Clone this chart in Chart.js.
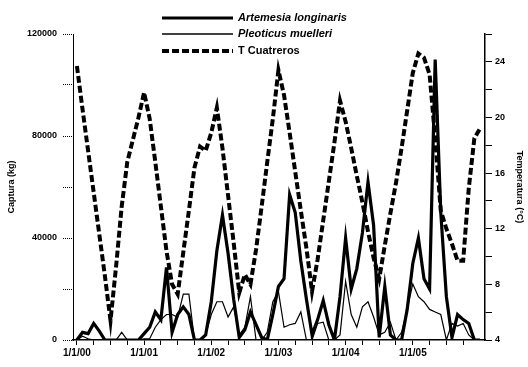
<!DOCTYPE html>
<html>
<head>
<meta charset="utf-8">
<script src="https://cdn.jsdelivr.net/npm/chart.js@4/dist/chart.umd.min.js"></script>
<style>
  html, body { margin: 0; padding: 0; background: #fff; }
  #wrap { width: 528px; height: 367px; position: relative; }
</style>
</head>
<body>
<div id="wrap"><canvas id="capturaChart"></canvas></div>
<script>
// monthly values, Jan 2000 .. Jan 2006 (index 0 = 1/1/00)
const seriesNames = ['Artemesia longinaris', 'Pleoticus muelleri', 'T Cuatreros'];
const yearLabels = ['1/1/00', '1/1/01', '1/1/02', '1/1/03', '1/1/04', '1/1/05'];

const artemesia = [
    0, 3000, 2500, 6500, 3500, 0, 0, 0, 0, 0, 0, 0,
    2500, 5000, 11000, 8000, 28500, 3000, 10000, 13000, 10000, 0, 0, 2000,
    15000, 35000, 49000, 34000, 16000, 1000, 4000, 11000, 6000, 1000, 0, 10000,
    21000, 24000, 57000, 50000, 31000, 16000, 2000, 8000, 15500, 6000, 0, 17000,
    40000, 20000, 28000, 42000, 62000, 45000, 1000, 21000, 2000, 0, 0, 12000,
    30000, 40000, 24000, 20000, 110000, 50000, 17000, 1000, 10000, 8000, 6500, 0,
    0
];
const pleoticus = [
    0, 1500, 500, 0, 0, 0, 0, 0, 3000, 0, 0, 0,
    500, 500, 5000, 8000, 10000, 10000, 9000, 18000, 18000, 0, 0, 2000,
    10000, 15000, 15000, 9000, 13000, 2000, 5000, 17000, 0, 0, 3000, 15000,
    19000, 5000, 6000, 6500, 11000, 0, 0, 6500, 7000, 0, 0, 2000,
    23000, 10000, 5000, 13000, 15000, 9000, 2000, 3000, 7000, 0, 3000, 12000,
    22000, 17000, 15000, 12000, 11000, 10000, 0, 6500, 5500, 6500, 2000, 0,
    0
];
const tempCuatreros = [
    23.7, 20.6, 17.6, 14.6, 11.6, 8.6, 5.4, 9.3, 13.6, 16.8, 18.4, 20.0,
    21.8, 19.9, 16.8, 13.6, 10.4, 8.0, 7.3, 10.3, 13.3, 16.4, 17.9, 17.6,
    18.9, 20.7, 17.8, 14.4, 11.0, 7.4, 8.7, 8.0, 10.5, 13.6, 16.8, 19.9,
    23.4, 21.6, 18.9, 16.1, 13.3, 10.6, 7.5, 9.8, 12.6, 15.4, 18.2, 21.2,
    19.7, 17.8, 15.8, 13.9, 11.8, 9.9, 8.4, 10.8, 13.1, 15.3, 17.8, 20.5,
    23.2, 24.6, 24.3, 23.1, 18.5, 13.3, 12.0, 10.9, 9.7, 9.7, 14.9, 18.5,
    19.2
];

const toPoints = arr => arr.map((v, i) => ({ x: i, y: v }));

const quarterTicks = [];
for (let m = 0; m <= 72; m += 3) quarterTicks.push(m);

// legend drawn in the top strip, like the original figure
const legendPlugin = {
    id: 'topLegend',
    afterDraw(chart) {
        const ctx = chart.ctx;
        const rows = [
            { y: 18, width: 3.2, dash: [], font: 'italic bold 11px "Liberation Sans", Arial, sans-serif' },
            { y: 34, width: 1.6, dash: [], font: 'italic bold 11px "Liberation Sans", Arial, sans-serif' },
            { y: 51, width: 4, dash: [7, 3], font: 'bold 11px "Liberation Sans", Arial, sans-serif' }
        ];
        ctx.save();
        rows.forEach((r, i) => {
            ctx.beginPath();
            ctx.setLineDash(r.dash);
            ctx.lineWidth = r.width;
            ctx.strokeStyle = '#000';
            ctx.moveTo(162, r.y);
            ctx.lineTo(233, r.y);
            ctx.stroke();
            ctx.setLineDash([]);
            ctx.font = r.font;
            ctx.fillStyle = '#000';
            ctx.textBaseline = 'middle';
            ctx.textAlign = 'left';
            ctx.fillText(seriesNames[i], 238, r.y);
        });
        ctx.restore();
    }
};

const tickFont = { family: '"Liberation Sans", Arial, sans-serif', size: 9, weight: 'bold' };

new Chart(document.getElementById('capturaChart'), {
    type: 'line',
    data: {
        datasets: [
            {
                label: seriesNames[0],
                data: toPoints(artemesia),
                borderColor: '#000',
                borderWidth: 3.2,
                pointRadius: 0,
                yAxisID: 'y',
                order: 2
            },
            {
                label: seriesNames[1],
                data: toPoints(pleoticus),
                borderColor: '#000',
                borderWidth: 1.2,
                pointRadius: 0,
                yAxisID: 'y',
                order: 1
            },
            {
                label: seriesNames[2],
                data: toPoints(tempCuatreros),
                borderColor: '#000',
                borderWidth: 4,
                borderDash: [7, 3],
                pointRadius: 0,
                yAxisID: 'y2',
                order: 0
            }
        ]
    },
    options: {
        responsive: true,
        maintainAspectRatio: false,
        animation: false,
        layout: { padding: { top: 34, left: 0, right: 0, bottom: 0 } },
        plugins: {
            legend: { display: false },
            tooltip: { enabled: false }
        },
        scales: {
            x: {
                type: 'linear',
                min: -0.7,
                max: 72.9,
                afterBuildTicks: s => { s.ticks = quarterTicks.map(v => ({ value: v })); },
                afterFit: s => { s.height = 27; },
                grid: { drawOnChartArea: false, tickLength: 5, color: '#000', tickWidth: 1 },
                border: { color: '#000', width: 1.5 },
                ticks: {
                    color: '#000',
                    padding: 2,
                    maxRotation: 0,
                    autoSkip: false,
                    font: { family: '"Liberation Sans", Arial, sans-serif', size: 10, weight: 'bold' },
                    callback: v => (v % 12 === 0 ? yearLabels[v / 12] : '')
                }
            },
            y: {
                position: 'left',
                min: 0,
                max: 120000,
                afterFit: s => { s.width = 73; },
                grid: { drawOnChartArea: false, tickLength: 10, color: '#000', tickBorderDash: [1, 1] },
                border: { color: '#000', dash: [1, 1] },
                ticks: {
                    stepSize: 20000,
                    color: '#000',
                    padding: 6,
                    font: tickFont,
                    callback: v => (v % 40000 === 0 ? String(v) : '')
                },
                title: {
                    display: true,
                    text: 'Captura (kg)',
                    color: '#000',
                    font: tickFont,
                    padding: { top: 6, bottom: 0 }
                }
            },
            y2: {
                position: 'right',
                min: 4,
                max: 26,
                afterFit: s => { s.width = 43; },
                grid: { drawOnChartArea: false, tickLength: 7, color: '#000' },
                border: { color: '#000', width: 1.5 },
                ticks: {
                    stepSize: 2,
                    color: '#000',
                    padding: 3,
                    font: tickFont,
                    callback: v => (v % 4 === 0 && v <= 24 ? String(v) : '')
                },
                title: {
                    display: true,
                    text: 'Temperatura (°C)',
                    color: '#000',
                    font: tickFont,
                    padding: { top: 3, bottom: 0 }
                }
            }
        }
    },
    plugins: [legendPlugin]
});
</script>
</body>
</html>
